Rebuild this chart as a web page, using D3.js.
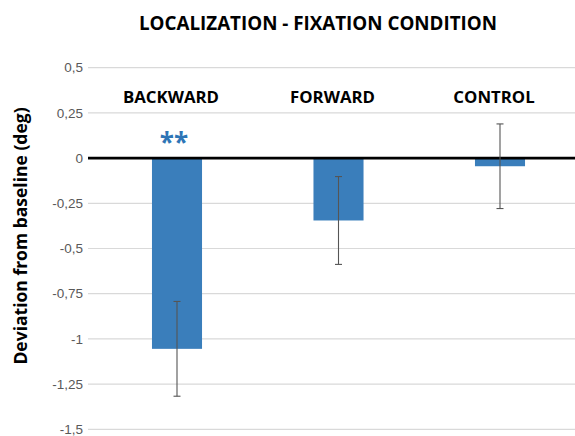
<!DOCTYPE html>
<html><head><meta charset="utf-8">
<script src="https://cdn.jsdelivr.net/npm/d3@7"></script>
<style>body{margin:0;background:#fff}svg{display:block}</style>
</head><body>
<script>
const categories = ["BACKWARD", "FORWARD", "CONTROL"];
const values = [-1.055, -0.345, -0.045];
const errors = [0.262, 0.243, 0.234];
const significance = ["**", "", ""];
const yTicks = [0.5, 0.25, 0, -0.25, -0.5, -0.75, -1, -1.25, -1.5];
const title = "LOCALIZATION - FIXATION CONDITION";
const yLabel = "Deviation from baseline (deg)";

const W = 575, H = 436;
const svg = d3.select("body").append("svg").attr("width", W).attr("height", H);

const y = d3.scaleLinear().domain([-1.5, 0.5]).range([429.3, 67.7]);
const x = d3.scaleBand().domain(categories).range([96.25, 580.75]).paddingInner(0.69).paddingOuter(0.345);
const gridX0 = 88, gridX1 = 575;

// gridlines
svg.append("g").selectAll("line").data(yTicks.filter(d => d !== 0)).join("line")
  .attr("x1", gridX0).attr("x2", gridX1)
  .attr("y1", d => y(d)).attr("y2", d => y(d))
  .attr("stroke", "#d9d9d9").attr("stroke-width", 1.2);

// y axis tick labels
const fmt = d => String(d).replace(".", ",");
svg.append("g").selectAll("text").data(yTicks).join("text")
  .attr("x", 83).attr("y", d => y(d)).attr("dy", "0.35em")
  .attr("text-anchor", "end")
  .attr("font-family", "Liberation Sans, Arial, sans-serif").attr("font-size", 13.5)
  .attr("fill", "#595959").text(fmt);

// bars
svg.append("g").selectAll("rect").data(categories).join("rect")
  .attr("x", d => x(d)).attr("width", x.bandwidth())
  .attr("y", (d, i) => Math.min(y(0), y(values[i])))
  .attr("height", (d, i) => Math.abs(y(values[i]) - y(0)))
  .attr("fill", "#3a7ebb");

// zero line
svg.append("line").attr("x1", gridX0).attr("x2", gridX1)
  .attr("y1", y(0)).attr("y2", y(0)).attr("stroke", "#000").attr("stroke-width", 2.6);

// error bars
const eb = svg.append("g").attr("stroke", "#555").attr("stroke-width", 1.1);
categories.forEach((c, i) => {
  const cx = x(c) + x.bandwidth() / 2;
  const top = y(values[i] + errors[i]), bot = y(values[i] - errors[i]);
  eb.append("line").attr("x1", cx).attr("x2", cx).attr("y1", top).attr("y2", bot);
  eb.append("line").attr("x1", cx - 3.5).attr("x2", cx + 3.5).attr("y1", top).attr("y2", top);
  eb.append("line").attr("x1", cx - 3.5).attr("x2", cx + 3.5).attr("y1", bot).attr("y2", bot);
});

// category labels
svg.append("g").selectAll("text").data(categories).join("text")
  .attr("x", d => x(d) + x.bandwidth() / 2 - 6).attr("y", 102.5)
  .attr("text-anchor", "middle")
  .attr("font-family", "Open Sans, sans-serif").attr("font-weight", "bold").attr("font-size", 16.8)
  .attr("fill", "#000").text(d => d);

// significance stars
svg.append("g").selectAll("text").data(categories).join("text")
  .attr("x", d => x(d) + x.bandwidth() / 2 - 3).attr("y", 152)
  .attr("text-anchor", "middle")
  .attr("font-family", "Open Sans, sans-serif").attr("font-weight", "bold").attr("font-size", 26)
  .attr("fill", "#2e75b6").text((d, i) => significance[i]);

// title
svg.append("text").attr("x", 318).attr("y", 30).attr("text-anchor", "middle")
  .attr("font-family", "Open Sans, sans-serif").attr("font-weight", "bold").attr("font-size", 18.8)
  .attr("fill", "#000").text(title);

// y label
svg.append("text").attr("transform", "translate(27,236) rotate(-90)")
  .attr("text-anchor", "middle")
  .attr("font-family", "Open Sans, sans-serif").attr("font-weight", "bold").attr("font-size", 17.5)
  .attr("fill", "#000").text(yLabel);
</script>
</body></html>
